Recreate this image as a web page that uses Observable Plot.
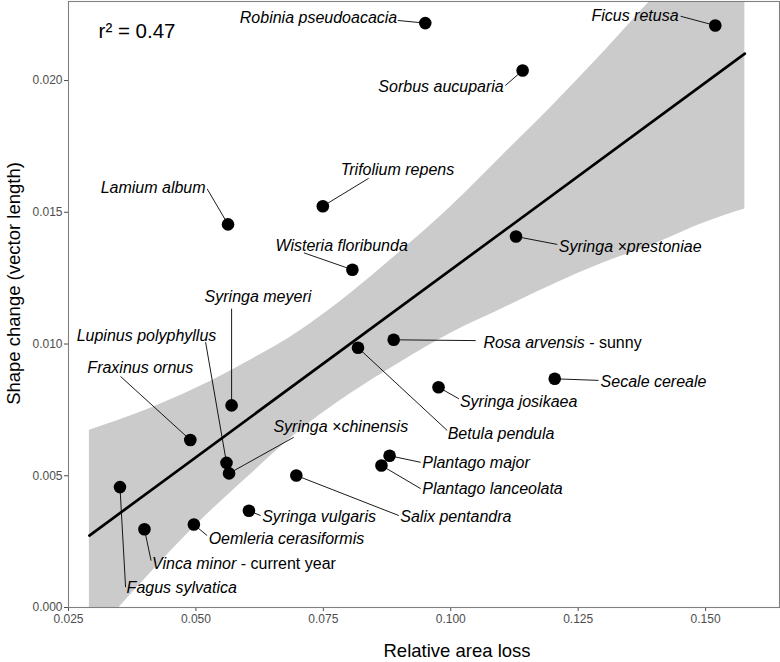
<!DOCTYPE html>
<html>
<head>
<meta charset="utf-8">
<script src="https://cdn.jsdelivr.net/npm/d3@7"></script>
<script src="https://cdn.jsdelivr.net/npm/@observablehq/plot@0.6"></script>
<style>
  html, body { margin: 0; padding: 0; background: #fff; }
  #chart svg { display: block; }
</style>
</head>
<body>
<div id="chart"></div>
<script>
// ---- data ----
const species = ["Robinia pseudoacacia","Ficus retusa","Sorbus aucuparia","Trifolium repens","Lamium album",
  "Wisteria floribunda","Syringa ×prestoniae","Syringa meyeri","Lupinus polyphyllus","Fraxinus ornus",
  "Rosa arvensis","Secale cereale","Syringa josikaea","Betula pendula","Syringa ×chinensis",
  "Plantago major","Plantago lanceolata","Salix pentandra","Syringa vulgaris","Oemleria cerasiformis",
  "Vinca minor","Fagus sylvatica"];
const labelSuffix = ["","","","","","","","","","",
  " - sunny","","","","","","","","",""," - current year",""];
const areaLoss = [0.0950,0.1519,0.1141,0.0749,0.0563,0.0807,0.1128,0.0570,0.0560,0.0489,
  0.0888,0.1204,0.0976,0.0818,0.0565,0.0880,0.0864,0.0697,0.0604,0.0496,0.0399,0.0351];
const shapeChange = [0.02218,0.02209,0.02038,0.01523,0.01454,0.01282,0.01408,0.00767,0.00549,0.00636,
  0.01016,0.00868,0.00836,0.00986,0.00509,0.00576,0.00539,0.00501,0.00367,0.00315,0.00297,0.00457];
// repelled label positions (data units) and which side the text hangs from
const labelX = [0.0895,0.1447,0.1104,0.0784,0.0519,0.0656,0.1212,0.0517,0.0266,0.0287,
  0.1064,0.1294,0.1018,0.0994,0.0652,0.0944,0.0944,0.0901,0.0630,0.0525,0.0414,0.0364];
const labelY = [0.02238,0.02244,0.01977,0.01660,0.01591,0.01374,0.01367,0.01180,0.01032,0.00908,
  0.01005,0.00858,0.00782,0.00659,0.00684,0.00548,0.00451,0.00343,0.00343,0.00261,0.00166,0.00073];
const labelSide = ["end","end","end","start","end","start","start","start","start","start",
  "start","start","start","start","start","start","start","start","start","start","start","start"];
// start of each connector segment (data units)
const segX = [0.0896,0.1451,0.1107,0.0839,0.0522,0.0712,0.1209,0.0570,0.0519,0.0352,
  0.1049,0.1290,0.1016,0.0993,0.0692,0.0941,0.0941,0.0898,0.0627,0.0522,0.0412,0.0362];
const segY = [0.02228,0.02244,0.01981,0.01629,0.01589,0.01346,0.01378,0.01134,0.01007,0.00877,
  0.01013,0.00862,0.00792,0.00672,0.00646,0.00551,0.00451,0.00349,0.00349,0.00273,0.00178,0.00077];

// fitted line and its confidence band
const fitX = [0.0291, 0.1577];
const fitY = [0.00273, 0.02102];
const bandX  = [0.0291,0.040,0.050,0.060,0.070,0.080,0.090,0.100,0.110,0.120,0.130,0.140,0.150,0.1577];
const bandLo = [-0.00127,0.00108,0.00312,0.00492,0.00665,0.00807,0.00929,0.01041,0.01133,0.01225,0.01308,0.01380,0.01462,0.01512];
const bandHi = [0.00673,0.00748,0.00832,0.00932,0.01045,0.01187,0.01349,0.01521,0.01713,0.01905,0.02108,0.02320,0.02522,0.02692];

const xTicks = [0.025, 0.050, 0.075, 0.100, 0.125, 0.150];
const yTicks = [0.000, 0.005, 0.010, 0.015, 0.020];
const xDomain = [0.025, 0.1645];
const yDomain = [0, 0.0230];
const xTitle = "Relative area loss";
const yTitle = "Shape change (vector length)";
const r2Text = ["r² = 0.47"];
const r2X = 0.0309, r2Y = 0.02187;

// ---- build tables ----
const points = species.map((s, i) => ({
  name: s, suffix: labelSuffix[i], x: areaLoss[i], y: shapeChange[i],
  lx: labelX[i], ly: labelY[i], side: labelSide[i], sx: segX[i], sy: segY[i]
}));
const band = bandX.map((x, i) => ({x, lo: bandLo[i], hi: bandHi[i]}));
const fit = fitX.map((x, i) => ({x, y: fitY[i]}));

const FONT = "'Liberation Sans', Arial, Helvetica, sans-serif";
const fmt = d3.format(".3f");

const chart = Plot.plot({
  width: 780,
  height: 662,
  marginLeft: 68,
  marginRight: 1,
  marginTop: 1,
  marginBottom: 55,
  style: {fontFamily: FONT, fontSize: "12px", background: "#fff", color: "#000"},
  x: {domain: xDomain, label: null},
  y: {domain: yDomain, label: null},
  marks: [
    Plot.areaY(band, {x: "x", y1: "lo", y2: "hi", fill: "#cbcbcb", curve: "monotone-x", clip: true}),
    Plot.line(fit, {x: "x", y: "y", stroke: "#000", strokeWidth: 2.7}),
    Plot.link(points, {x1: "sx", y1: "sy", x2: "x", y2: "y", stroke: "#000", strokeWidth: 0.9}),
    Plot.dot(points, {x: "x", y: "y", r: 6.3, fill: "#000", stroke: "none"}),
    Plot.text(points.filter(d => d.side === "start"), {x: "lx", y: "ly", text: d => d.name + d.suffix,
      textAnchor: "start", fontSize: 16, fontStyle: "italic", fill: "#000"}),
    Plot.text(points.filter(d => d.side === "end"), {x: "lx", y: "ly", text: d => d.name + d.suffix,
      textAnchor: "end", fontSize: 16, fontStyle: "italic", fill: "#000"}),
    Plot.text(r2Text, {x: () => r2X, y: () => r2Y, text: d => d, textAnchor: "start", fontSize: 20.5, fill: "#000"}),
    Plot.axisX({ticks: xTicks, tickFormat: fmt, tickSize: 4, tickPadding: 3, color: "#4d4d4d", fontSize: 12, label: null}),
    Plot.axisY({ticks: yTicks, tickFormat: fmt, tickSize: 4, tickPadding: 2, color: "#4d4d4d", fontSize: 12, label: null}),
    Plot.frame({stroke: "#808080", strokeWidth: 1.1}),
    Plot.text([xTitle], {frameAnchor: "bottom", text: d => d, dx: 33, dy: 44, lineAnchor: "middle", textAnchor: "middle",
      fontSize: 18.5, fill: "#000"}),
    Plot.text([yTitle], {frameAnchor: "left", text: d => d, dx: -54, dy: -21, rotate: -90, lineAnchor: "middle", textAnchor: "middle",
      fontSize: 18.5, fill: "#000"})
  ]
});

// italic species name + upright suffix (e.g. "Rosa arvensis - sunny")
const suffixes = points.filter(d => d.suffix).map(d => ({full: d.name + d.suffix, name: d.name, suffix: d.suffix}));
chart.querySelectorAll("text").forEach(t => {
  const m = suffixes.find(s => s.full === t.textContent);
  if (!m) return;
  t.textContent = "";
  t.setAttribute("style", "white-space: pre");
  const ns = "http://www.w3.org/2000/svg";
  const a = document.createElementNS(ns, "tspan");
  a.textContent = m.name;
  const b = document.createElementNS(ns, "tspan");
  b.textContent = m.suffix;
  b.setAttribute("font-style", "normal");
  t.appendChild(a); t.appendChild(b);
});

document.getElementById("chart").appendChild(chart);
</script>
</body>
</html>
